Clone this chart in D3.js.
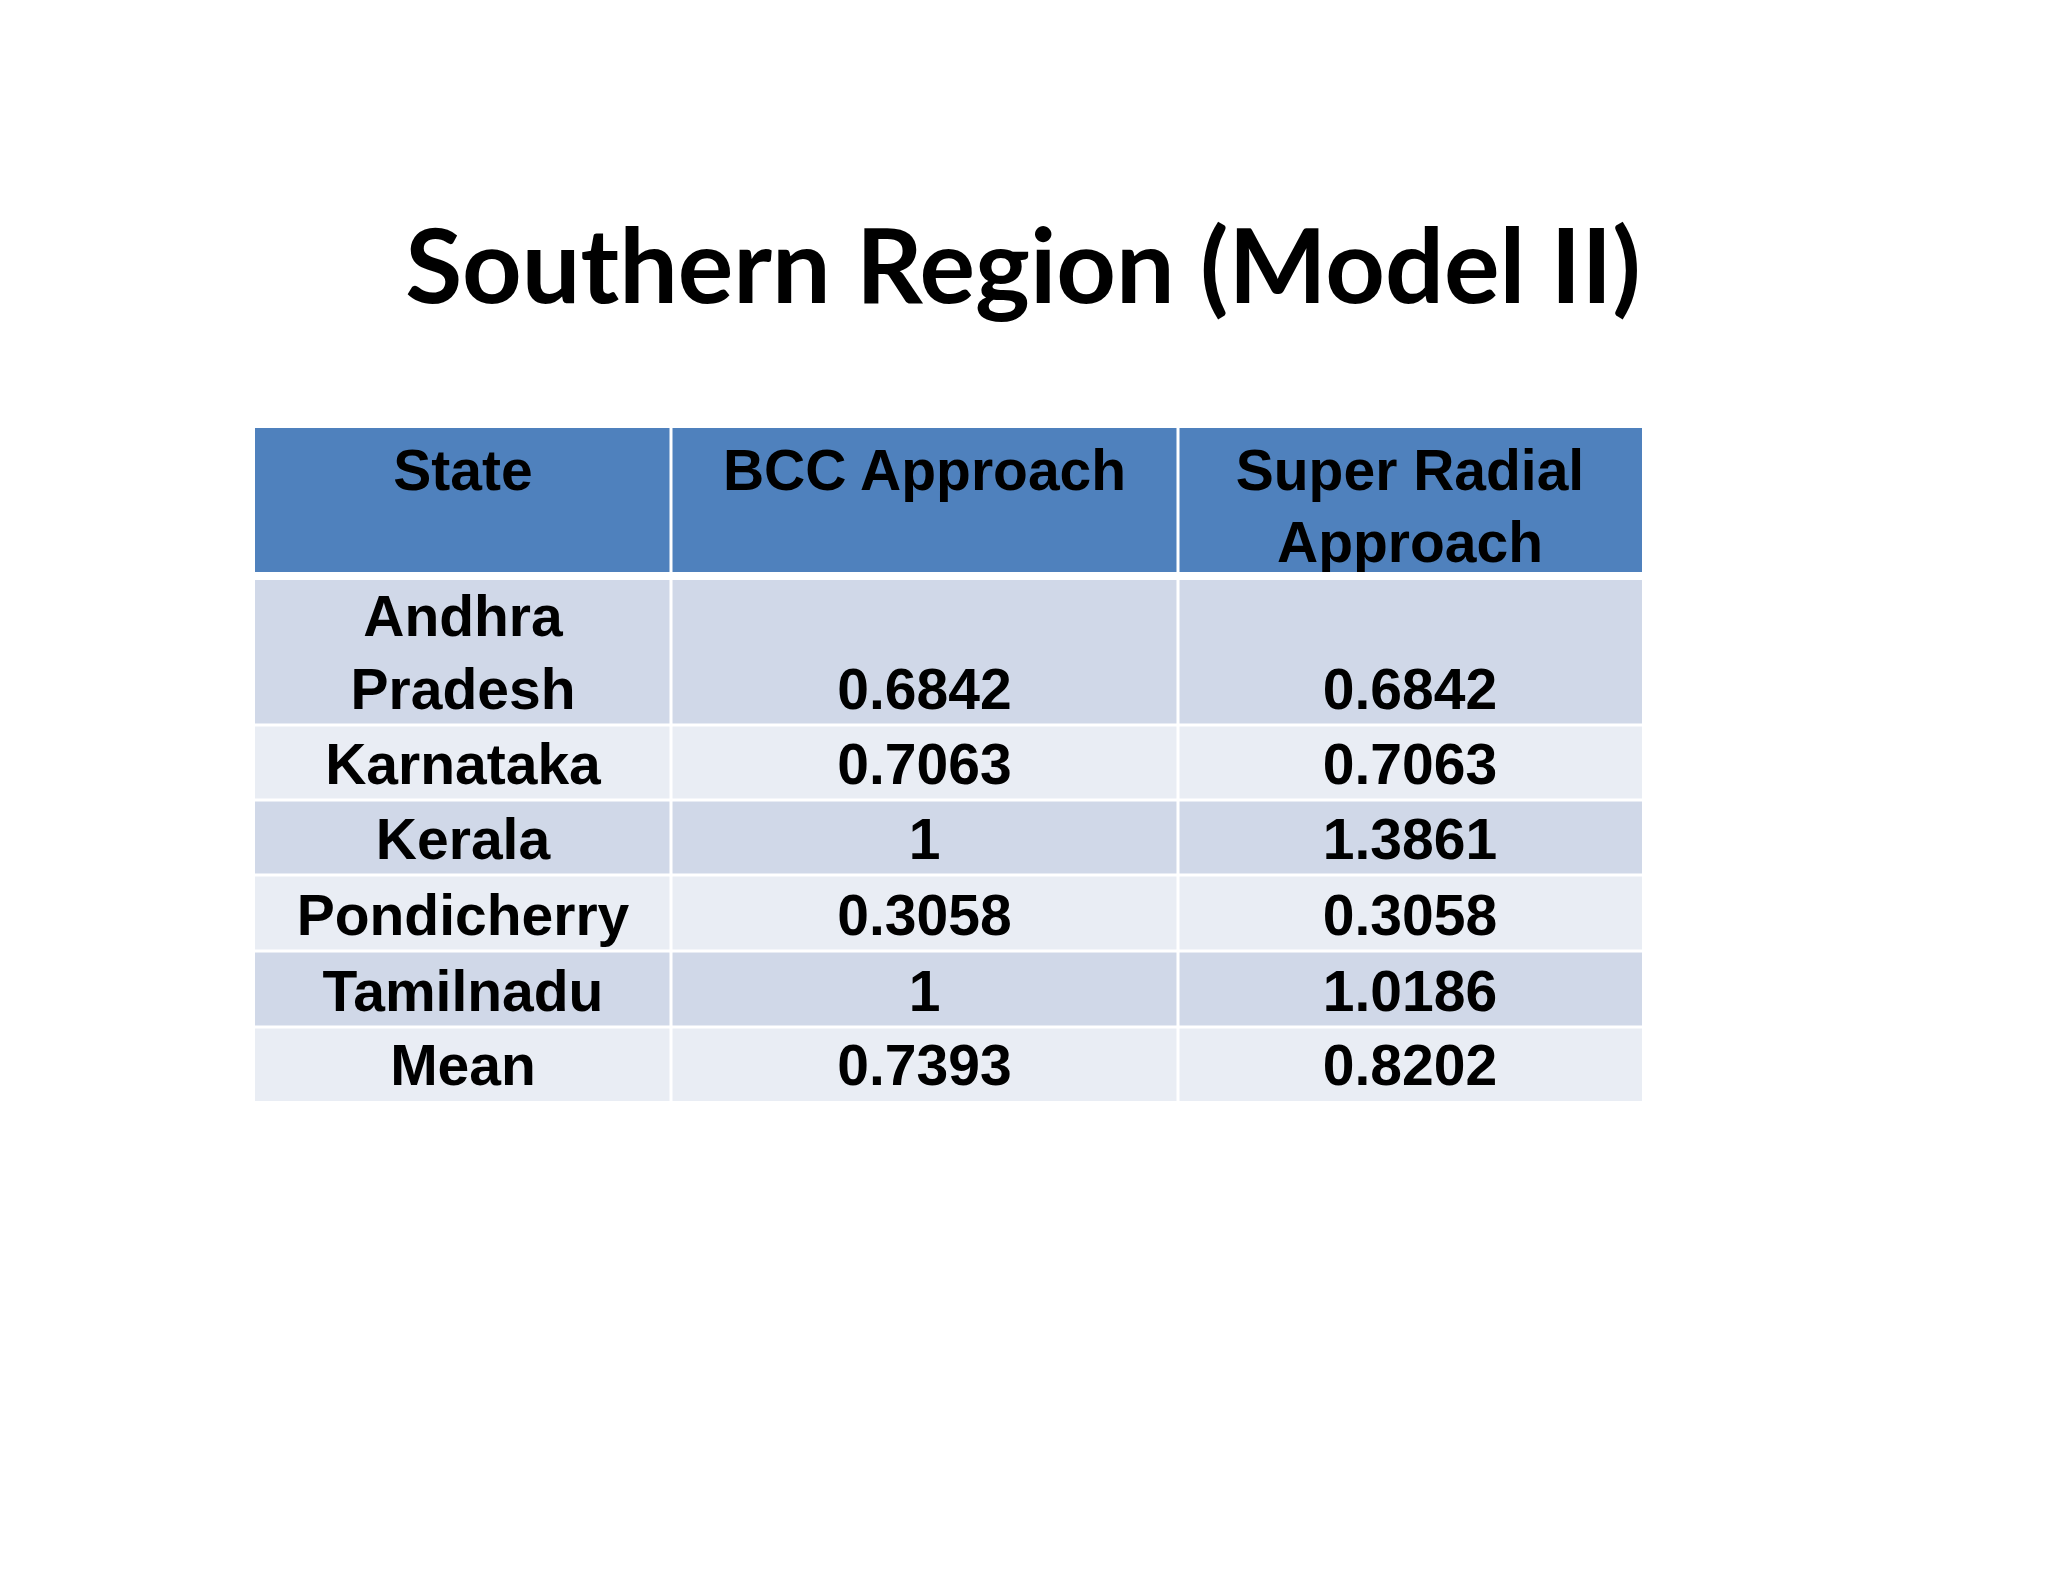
<!DOCTYPE html>
<html><head><meta charset="utf-8">
<script src="https://cdn.jsdelivr.net/npm/d3@7"></script>
<style>body{margin:0;background:#fff}</style>
</head><body>
<script>
var title = "Southern Region (Model II)";
var headers = [["State"], ["BCC  Approach"], ["Super Radial", "Approach"]];
var states = [["Andhra", "Pradesh"], ["Karnataka"], ["Kerala"], ["Pondicherry"], ["Tamilnadu"], ["Mean"]];
var bcc = ["0.6842", "0.7063", "1", "0.3058", "1", "0.7393"];
var superRadial = ["0.6842", "0.7063", "1.3861", "0.3058", "1.0186", "0.8202"];

var svg = d3.select("body").append("svg").attr("width", 2048).attr("height", 1582);

svg.append("text").attr("x", 1023).attr("y", 303).attr("text-anchor", "middle")
  .style("font-family", "Lato, 'Open Sans', sans-serif").style("font-weight", "bold")
  .style("font-size", "104px").text(title);

var colEdges = [255, 671, 1178, 1642];
var rowEdges = [580, 725, 800, 875, 951, 1027, 1101];
var font = "'Liberation Sans', Arial, sans-serif";
var fs = 57;

// header
for (var c = 0; c < 3; c++) {
  svg.append("rect").attr("x", colEdges[c]).attr("y", 428)
    .attr("width", colEdges[c+1] - colEdges[c]).attr("height", 144).attr("fill", "#4F81BD");
  headers[c].forEach(function(t, i) {
    svg.append("text").attr("x", (colEdges[c] + colEdges[c+1]) / 2).attr("y", 490 + i * 72)
      .attr("text-anchor", "middle").style("font-family", font).style("font-weight", "bold")
      .style("font-size", fs + "px").text(t);
  });
}

var rows = states.map(function(s, i) { return [s, [bcc[i]], [superRadial[i]]]; });
rows.forEach(function(r, i) {
  var y0 = rowEdges[i], y1 = rowEdges[i+1];
  for (var c = 0; c < 3; c++) {
    svg.append("rect").attr("x", colEdges[c]).attr("y", y0)
      .attr("width", colEdges[c+1] - colEdges[c]).attr("height", y1 - y0)
      .attr("fill", i % 2 ? "#E9EDF4" : "#D0D8E8");
    var lines = r[c];
    lines.forEach(function(t, k) {
      svg.append("text").attr("x", (colEdges[c] + colEdges[c+1]) / 2)
        .attr("y", y1 - 16 - (lines.length - 1 - k) * 73)
        .attr("text-anchor", "middle").style("font-family", font).style("font-weight", "bold")
        .style("font-size", fs + "px").text(t);
    });
  }
});

// white separators
colEdges.slice(1, 3).forEach(function(x) {
  svg.append("line").attr("x1", x).attr("x2", x).attr("y1", 428).attr("y2", 1101)
    .attr("stroke", "#fff").attr("stroke-width", 3);
});
rowEdges.slice(1, 6).forEach(function(y) {
  svg.append("line").attr("x1", 255).attr("x2", 1642).attr("y1", y).attr("y2", y)
    .attr("stroke", "#fff").attr("stroke-width", 3);
});
svg.append("rect").attr("x", 255).attr("y", 572).attr("width", 1387).attr("height", 8).attr("fill", "#fff");
</script>
</body></html>
